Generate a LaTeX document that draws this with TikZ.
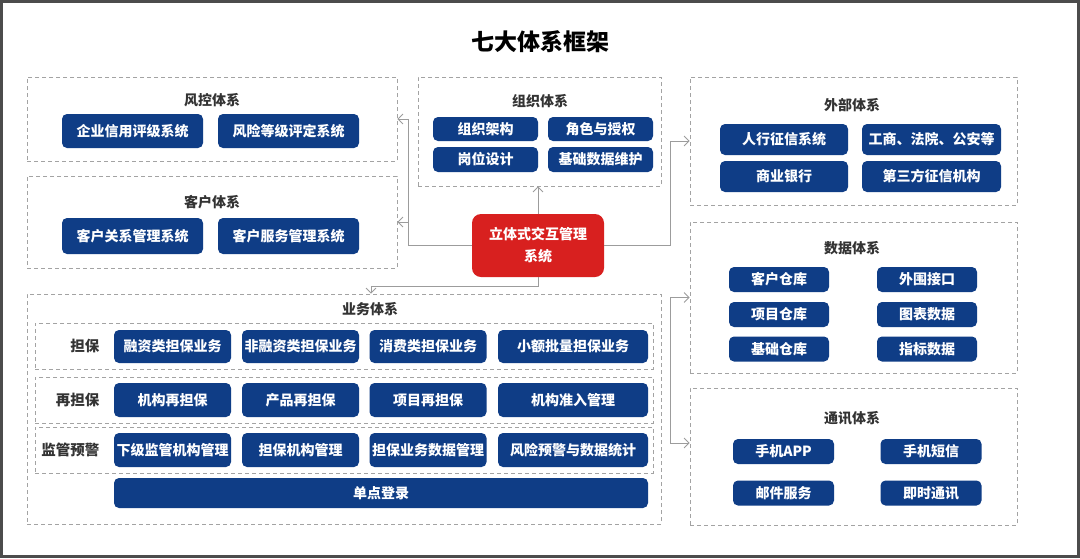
\documentclass[tikz,border=0pt]{standalone}
\usepackage{fontspec}
\setmainfont{Noto Sans CJK SC}
\usepackage{tikz}
\usetikzlibrary{arrows.meta}
\definecolor{navy}{HTML}{0F3D86}
\definecolor{hongse}{HTML}{D8201F}
\definecolor{xuxian}{HTML}{A3A3A3}
\definecolor{lianxian}{HTML}{9C9C9C}
\definecolor{biaoti}{HTML}{333333}

\begin{document}
\begin{tikzpicture}[x=1pt, y=-1pt,
    grp/.style={draw=xuxian, line width=0.8pt, dash pattern=on 4pt off 3pt, inner sep=0pt},
    btn/.style={fill=navy, rounded corners=5pt, text=white, inner sep=0pt, minimum height=25,
        font=\fontsize{14}{16}\selectfont\bfseries},
    grptitle/.style={text=biaoti, font=\fontsize{14}{16}\selectfont\bfseries},
    hang/.style={text=biaoti, anchor=east, font=\fontsize{14.5}{16}\selectfont\bfseries},
    conn/.style={draw=lianxian, line width=0.8pt, -{Straight Barb[length=5pt,width=10pt]}},
    plain/.style={draw=lianxian, line width=0.8pt}]
\useasboundingbox (0,0) rectangle (1080,558);
\fill[white] (0,0) rectangle (1080,558);
\draw[gray!14, line width=1.2pt] (150,0) arc[start angle=210, end angle=330, radius=253];
\draw[gray!10, line width=1.2pt] (210,0) arc[start angle=225, end angle=315, radius=169];
\draw[gray!60!black, line width=3pt] (1.5,1.5) rectangle (1078.5,556.5);

\node[font=\fontsize{23}{25}\selectfont\bfseries] (title) at (540,42) {七大体系框架};

% 风控 / 客户
\node[grp, minimum width=370, minimum height=84] (fk) at (212,119) {};
\node[grptitle] (fkt) at (212,100) {风控体系};
\node[btn, minimum width=141, minimum height=34] (fk1) at (132.5,131) {企业信用评级系统};
\node[btn, minimum width=141, minimum height=34] (fk2) at (288.5,131) {风险等级评定系统};
\node[grp, minimum width=370, minimum height=92] (kh) at (212,222) {};
\node[grptitle] (kht) at (212,202) {客户体系};
\node[btn, minimum width=141, minimum height=36] (kh1) at (132.5,236) {客户关系管理系统};
\node[btn, minimum width=141, minimum height=36] (kh2) at (288.5,236) {客户服务管理系统};

% 组织
\node[grp, minimum width=243, minimum height=109] (zz) at (539.5,131.5) {};
\node[grptitle] (zzt) at (540,101) {组织体系};
\node[btn, minimum width=105, minimum height=24] (zz1) at (485.5,129) {组织架构};
\node[btn, minimum width=105, minimum height=24] (zz2) at (600.5,129) {角色与授权};
\node[btn, minimum width=105, minimum height=25] (zz3) at (485.5,159.5) {岗位设计};
\node[btn, minimum width=105, minimum height=25] (zz4) at (600.5,159.5) {基础数据维护};

\node[fill=hongse, rounded corners=9pt, text=white, minimum width=132, minimum height=63,
    align=center, font=\fontsize{14}{22}\selectfont\bfseries] (red) at (538,245.5) {立体式交互管理\\系统};

% 业务
\node[grp, minimum width=634, minimum height=230] (yw) at (344,409) {};
\node[grptitle] (ywt) at (370,309) {业务体系};
\node[grp, minimum width=618, minimum height=46] (db) at (344,346) {};
\node[grp, minimum width=618, minimum height=46] (zdb) at (344,400) {};
\node[grp, minimum width=618, minimum height=46] (jg) at (344,450) {};
\node[hang] (dbl) at (103,346) {担保};
\node[hang] (zdbl) at (103,400) {再担保};
\node[hang] (jgl) at (103,450) {监管预警};
\node[btn, minimum width=117, minimum height=33] (db1) at (172.5,346.5) {融资类担保业务};
\node[btn, minimum width=117, minimum height=33] (db2) at (300.5,346.5) {非融资类担保业务};
\node[btn, minimum width=117, minimum height=33] (db3) at (428,346.5) {消费类担保业务};
\node[btn, minimum width=150, minimum height=33] (db4) at (573,346.5) {小额批量担保业务};
\node[btn, minimum width=117, minimum height=34] (zdb1) at (172.5,400) {机构再担保};
\node[btn, minimum width=117, minimum height=34] (zdb2) at (300.5,400) {产品再担保};
\node[btn, minimum width=117, minimum height=34] (zdb3) at (428,400) {项目再担保};
\node[btn, minimum width=150, minimum height=34] (zdb4) at (573,400) {机构准入管理};
\node[btn, minimum width=117, minimum height=34] (jg1) at (172.5,450) {下级监管机构管理};
\node[btn, minimum width=117, minimum height=34] (jg2) at (300.5,450) {担保机构管理};
\node[btn, minimum width=117, minimum height=34] (jg3) at (428,450) {担保业务数据管理};
\node[btn, minimum width=150, minimum height=34] (jg4) at (573,450) {风险预警与数据统计};
\node[btn, minimum width=534, minimum height=30] (dl) at (381,493) {单点登录};

% 外部
\node[grp, minimum width=327, minimum height=128] (wb) at (853.5,141) {};
\node[grptitle] (wbt) at (852,105) {外部体系};
\node[btn, minimum width=128, minimum height=31] (wb1) at (784,139.5) {人行征信系统};
\node[btn, minimum width=139, minimum height=31] (wb2) at (931.5,139.5) {工商、法院、公安等};
\node[btn, minimum width=128, minimum height=31] (wb3) at (784,176.5) {商业银行};
\node[btn, minimum width=139, minimum height=31] (wb4) at (931.5,176.5) {第三方征信机构};

% 数据
\node[grp, minimum width=327, minimum height=151] (sj) at (853.5,297.5) {};
\node[grptitle] (sjt) at (852,248) {数据体系};
\node[btn, minimum width=100] (sj1) at (779,279.5) {客户仓库};
\node[btn, minimum width=100] (sj2) at (927,279.5) {外围接口};
\node[btn, minimum width=100] (sj3) at (779,314.5) {项目仓库};
\node[btn, minimum width=100] (sj4) at (927,314.5) {图表数据};
\node[btn, minimum width=100] (sj5) at (779,349) {基础仓库};
\node[btn, minimum width=100] (sj6) at (927,349) {指标数据};

% 通讯
\node[grp, minimum width=327, minimum height=137] (tx) at (853.5,456.5) {};
\node[grptitle] (txt) at (852,418) {通讯体系};
\node[btn, minimum width=101] (tx1) at (783.5,451.5) {手机APP};
\node[btn, minimum width=101] (tx2) at (931,451.5) {手机短信};
\node[btn, minimum width=101] (tx3) at (783.5,493) {邮件服务};
\node[btn, minimum width=101] (tx4) at (931,493) {即时通讯};

% connectors
\coordinate (lbus) at (408,0);
\coordinate (rbus) at (670,0);
\coordinate (dn) at (371,286);
\draw[conn] (red.west) -| (lbus |- fk.east) -- (fk.east);
\draw[conn] (lbus |- kh.east) -- (kh.east);
\draw[conn] (red.north) -- (red.north |- zz.south);
\draw[conn] (red.south) |- (dn) -- (dn |- yw.north);
\draw[conn] (red.east) -| (rbus |- wb.west) -- (wb.west);
\draw[conn] (rbus |- sj.west) -- (sj.west);
\draw[plain] (rbus |- sj.west) -- (rbus |- 0,443);
\draw[conn] (rbus |- 0,443) -- (tx.west |- 0,443);
\end{tikzpicture}
\end{document}
